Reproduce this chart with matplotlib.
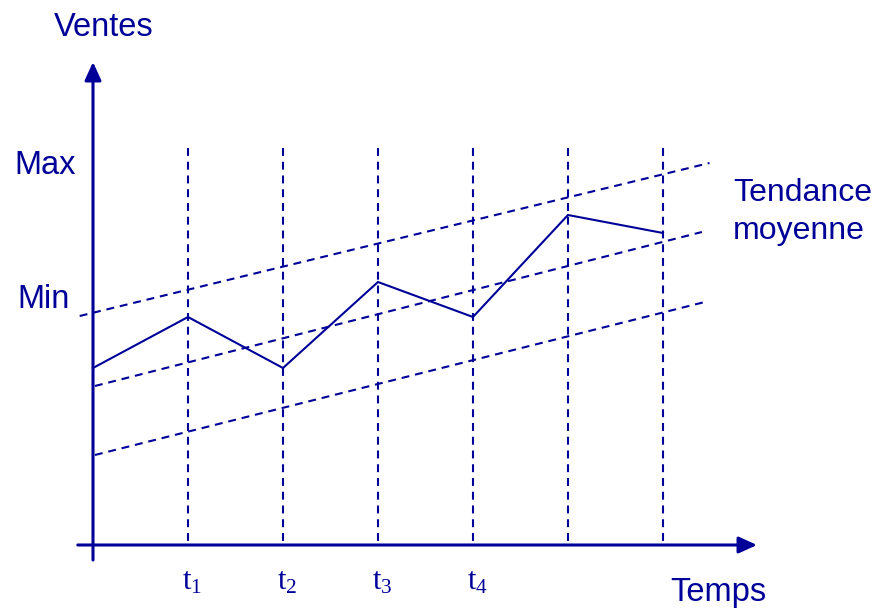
import matplotlib
matplotlib.use("Agg")
import matplotlib.pyplot as plt

plt.rcParams['font.family'] = ['Liberation Sans', 'DejaVu Sans']
plt.rcParams['mathtext.fontset'] = 'custom'
plt.rcParams['mathtext.rm'] = 'Liberation Serif'
plt.rcParams['mathtext.it'] = 'Liberation Serif:italic'

NAVY = '#000099'

# Data (time index, sales level)
times = [0, 1, 2, 3, 4, 5, 6]
sales = [177, 228, 177, 263, 228, 330, 312]
grid_times = [1, 2, 3, 4, 5, 6]
grid_top = 397
tick_labels = [r'$\mathrm{t}_{1}$', r'$\mathrm{t}_{2}$', r'$\mathrm{t}_{3}$', r'$\mathrm{t}_{4}$']
# trend lines: (t_start, t_end), (v_start, v_end)
trend_upper_t = [-0.14, 6.49]
trend_upper_v = [229, 382]
trend_mid_t = [0.02, 6.41]
trend_mid_v = [159, 313]
trend_low_t = [0.02, 6.44]
trend_low_v = [90, 243]
max_level = 380
min_level = 245

fig = plt.figure(figsize=(8.92, 6.13), dpi=100)
ax = fig.add_axes([0, 0, 1, 1])
ax.set_xlim(-0.979, 8.411)
ax.set_ylim(-68, 545)
ax.axis('off')

dash = dict(color=NAVY, lw=1.5, linestyle=(0, (3.8, 2.8)))
for t in grid_times:
    ax.plot([t, t], [grid_top, 0], **dash)
for tt, vv in [(trend_upper_t, trend_upper_v), (trend_mid_t, trend_mid_v), (trend_low_t, trend_low_v)]:
    ax.plot(tt, vv, **dash)

ax.plot(times, sales, color=NAVY, lw=1.5, solid_joinstyle='miter')

# axes with arrows
ax.annotate('', xy=(0, 483), xytext=(0, -15),
            arrowprops=dict(arrowstyle='-|>,head_length=1.1,head_width=0.5', color=NAVY, lw=2.2,
                            shrinkA=0, shrinkB=0))
ax.annotate('', xy=(6.99, 0), xytext=(-0.16, 0),
            arrowprops=dict(arrowstyle='-|>,head_length=1.1,head_width=0.5', color=NAVY, lw=2.2,
                            shrinkA=0, shrinkB=0))

fs = 23.5
ax.text(0.11, 518, 'Ventes', color=NAVY, fontsize=fs, ha='center', va='center')
ax.text(6.58, -48, 'Temps', color=NAVY, fontsize=fs, ha='center', va='center')
ax.text(-0.83, max_level, 'Max', color=NAVY, fontsize=fs, ha='left', va='center')
ax.text(-0.80, min_level, 'Min', color=NAVY, fontsize=fs, ha='left', va='center')
ax.text(6.74, 352, 'Tendance', color=NAVY, fontsize=23, ha='left', va='center')
ax.text(6.74, 314, 'moyenne', color=NAVY, fontsize=23, ha='left', va='center')

for t, lab in zip(grid_times, tick_labels):
    ax.text(t - 0.06, -22, lab, color=NAVY, fontsize=22, ha='left', va='top')

fig.savefig('out.png', dpi=100)
